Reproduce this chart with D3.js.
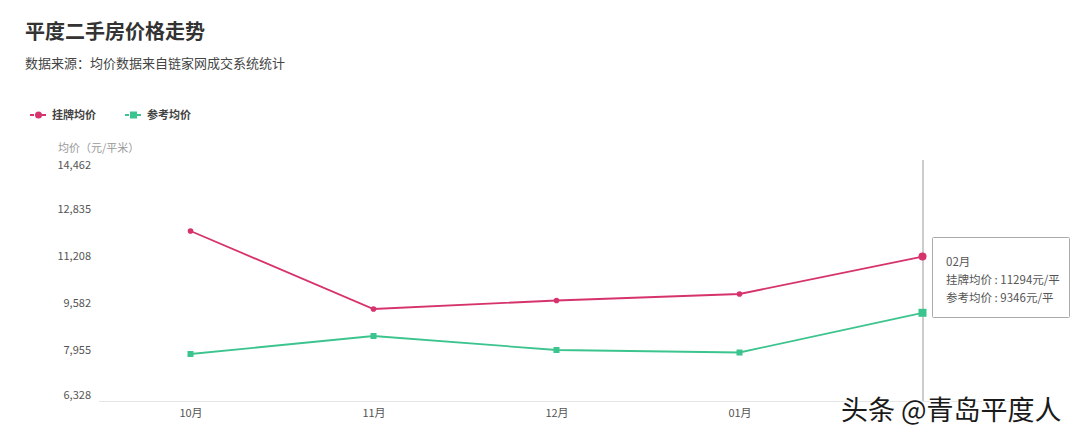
<!DOCTYPE html>
<html><head><meta charset="utf-8">
<script src="https://cdn.jsdelivr.net/npm/d3@7"></script>
<style>
html,body{margin:0;padding:0;background:#fff;}
text{font-family:"Noto Sans CJK SC","Noto Sans",sans-serif;}
</style></head>
<body><svg id="c" width="1080" height="438"></svg>
<script>
const months = ["10月","11月","12月","01月","02月"];
const listingPrice = [12178, 9478, 9772, 9997, 11294];
const referencePrice = [7920, 8543, 8058, 7972, 9346];
const yTicks = [6328, 7955, 9582, 11208, 12835, 14462];
const visibleXTicks = ["10月","11月","12月","01月"];
const seriesNames = ["挂牌均价","参考均价"];
const seriesColors = ["#d6336c","#3cc48f"];

const svg = d3.select("#c");
svg.append("rect").attr("width",1080).attr("height",438).attr("fill","#fff");

svg.append("text").attr("x",25).attr("y",39).attr("font-size",20).attr("font-weight","bold").attr("fill","#333").text("平度二手房价格走势");
svg.append("text").attr("x",25).attr("y",68).attr("font-size",13).attr("fill","#444").text("数据来源：均价数据来自链家网成交系统统计");

// legend
const legend = [{x:30, shape:"circle"},{x:125, shape:"rect"}];
legend.forEach((l,i)=>{
  const g = svg.append("g");
  g.append("line").attr("x1",l.x).attr("x2",l.x+17).attr("y1",115).attr("y2",115).attr("stroke",seriesColors[i]).attr("stroke-width",2).attr("stroke-dasharray","4,2");
  if(l.shape==="circle") g.append("circle").attr("cx",l.x+8.5).attr("cy",115).attr("r",3.5).attr("fill",seriesColors[i]);
  else g.append("rect").attr("x",l.x+5).attr("y",111.5).attr("width",7).attr("height",7).attr("fill",seriesColors[i]);
  g.append("text").attr("x",l.x+22).attr("y",119).attr("font-size",11).attr("font-weight","bold").attr("fill","#444").text(seriesNames[i]);
});

const x = d3.scalePoint().domain(months).range([99,1014]).padding(0.5);
const y = d3.scaleLinear().domain([6328,14462]).range([400,165]);

svg.append("text").attr("x",58).attr("y",152).attr("font-size",11).attr("fill","#999").text("均价（元/平米）");

// y axis labels
const yAxis = d3.axisLeft(y).tickValues(yTicks).tickFormat(d3.format(",")).tickSize(0).tickPadding(0);
const ya = svg.append("g").attr("transform","translate(91,0)").call(yAxis);
ya.select(".domain").remove();
ya.selectAll("text").attr("font-size",11).attr("fill","#555").attr("font-family","'Noto Sans',sans-serif")
  .attr("dy",(d,i)=> (0.32 - (i===0?0.45:(i===5?0:0.25))) + "em");

// x axis
const xAxis = d3.axisBottom(x).tickValues(visibleXTicks).tickSize(0).tickPadding(8);
const xa = svg.append("g").attr("transform","translate(0,401)").call(xAxis);
xa.select(".domain").attr("stroke","#e6e6e6").attr("d","M99,0.5H1014");
xa.selectAll("text").attr("font-size",11).attr("fill","#555");

// hover line
svg.append("line").attr("x1",x("02月")+0.5).attr("x2",x("02月")+0.5).attr("y1",160).attr("y2",401).attr("stroke","#999").attr("stroke-width",1);

const line = d3.line().x((d,i)=>x(months[i])).y(d=>y(d));
[listingPrice, referencePrice].forEach((data,si)=>{
  svg.append("path").datum(data).attr("d",line).attr("fill","none").attr("stroke",seriesColors[si]).attr("stroke-width",1.8);
  const last = data.length-1;
  if(si===0){
    svg.selectAll(null).data(data).enter().append("circle")
      .attr("cx",(d,i)=>x(months[i])).attr("cy",d=>y(d)).attr("r",(d,i)=>i===last?4:2.8).attr("fill",seriesColors[si]);
  } else {
    svg.selectAll(null).data(data).enter().append("rect")
      .attr("x",(d,i)=>x(months[i])-(i===last?4:3)).attr("y",(d,i)=>y(d)-(i===last?4:3))
      .attr("width",(d,i)=>i===last?8:6).attr("height",(d,i)=>i===last?8:6).attr("fill",seriesColors[si]);
  }
});

// tooltip
const tx = 932, ty = 237;
svg.append("rect").attr("x",tx+0.5).attr("y",ty+0.5).attr("width",137).attr("height",80).attr("fill","#fff").attr("stroke","#aaa").attr("rx",1);
const tt = [months[4], seriesNames[0]+" : "+listingPrice[4]+"元/平", seriesNames[1]+" : "+referencePrice[4]+"元/平"];
tt.forEach((t,i)=>{
  svg.append("text").attr("x",tx+14).attr("y",ty+29+i*18).attr("font-size",11.5).attr("fill","#555").text(t);
});

// watermark
svg.append("text").attr("x",841).attr("y",420).attr("font-size",27).attr("fill","#1a1a1a")
  .attr("stroke","#fff").attr("stroke-width",2).attr("paint-order","stroke").text("头条 @青岛平度人");
</script></body></html>
